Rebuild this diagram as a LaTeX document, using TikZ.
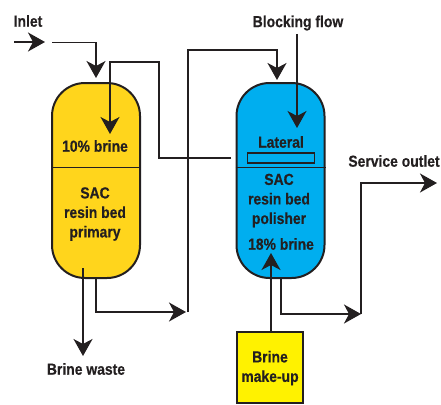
\documentclass[tikz,border=0pt]{standalone}
\usepackage{fontspec}
\setmainfont{Liberation Sans}[FakeStretch=0.87, BoldFeatures={FakeBold=0.4}]
\usepackage{tikz}
\usetikzlibrary{arrows.meta}
\usepackage{xcolor}
\definecolor{inkline}{HTML}{231F20}
\definecolor{bedyellow}{HTML}{FFD51C}
\definecolor{bedblue}{HTML}{00AEEF}
\definecolor{boxyellow}{HTML}{FFF200}

\tikzset{
    vessel/.style={draw=inkline, line width=2pt, rounded corners=33pt, minimum width=88pt, minimum height=195pt, inner sep=0pt},
    pipe/.style={draw=inkline, line width=1.5pt},
    flow/.style={pipe, -{Stealth[length=17pt, width=19pt, inset=5pt]}},
    tag/.style={font=\bfseries\fontsize{16}{19.5}\selectfont, text=inkline, align=center, inner sep=0pt},
}

\begin{document}
\begin{tikzpicture}[x=1pt, y=-1pt]
    \useasboundingbox (0,0) rectangle (441,404);

    % Vessels
    \node[vessel, fill=bedyellow] (primary) at (96,180.5) {};
    \node[vessel, fill=bedblue] (polisher) at (280.5,180.5) {};
    \draw[inkline, line width=1pt] (primary.west |- 0,167) -- (primary.east |- 0,167);
    \draw[inkline, line width=1pt] (polisher.west |- 0,167) -- (polisher.east |- 0,167);

    % Lateral and make-up tank
    \node[draw=inkline, line width=1.6pt, minimum width=67pt, minimum height=10pt, inner sep=0pt] (lateral) at (281,158) {};
    \node[draw=inkline, line width=1.4pt, fill=boxyellow, minimum width=66pt, minimum height=71pt, inner sep=0pt] (makeup) at (270,367.5) {};

    % Coordinates for the pipe ends
    \coordinate (InA) at (14,42);
    \coordinate (InB) at (45,42);
    \coordinate (FeedA) at (52,42.5);
    \coordinate (FeedB) at (96,78);
    \coordinate (RecircA) at (231,158);
    \coordinate (RecircB) at (110,134);
    \coordinate (CrossA) at (188,312);
    \coordinate (CrossB) at (277,80);
    \coordinate (BlockA) at (297,34);
    \coordinate (BlockB) at (297,128);
    \coordinate (WasteA) at (83,268);
    \coordinate (WasteB) at (83,356);
    \coordinate (PrimOutA) at (96,278);
    \coordinate (PrimOutB) at (186,312);
    \coordinate (MakeTip) at (271,253);
    \coordinate (MakeEnd) at (271,332);
    \coordinate (PolOutA) at (281,278);
    \coordinate (PolOutB) at (361,314);
    \coordinate (ServA) at (361,314);
    \coordinate (ServB) at (437,183);

    % Draw the pipes
    \draw[flow] (InA) -- (InB);
    \draw[flow] (FeedA) -| (FeedB);
    \draw[flow] (RecircA) -- (159,158) -- (159,62) -- (110,62) -- (RecircB);
    \draw[flow] (CrossA) -- (188,50) -- (277,50) -- (CrossB);
    \draw[flow, line width=1.2pt] (BlockA) -- (BlockB);
    \draw[flow] (WasteA) -- (WasteB);
    \draw[flow] (PrimOutA) |- (PrimOutB);
    \draw[flow] (MakeEnd) -- (MakeTip);
    \draw[flow] (PolOutA) |- (PolOutB);
    \draw[flow] (ServA) |- (ServB);

    % Labels
    \node[tag] (inlet) at (28,21) {Inlet};
    \node[tag] (blocking) at (298,23) {Blocking flow};
    \node[tag] (service) at (394,161) {Service outlet};
    \node[tag] (waste) at (86,369) {Brine waste};
    \node[tag] (tenpct) at (95,146) {10\% brine};
    \node[tag] (primtext) at (95,214) {SAC\\resin bed\\primary};
    \node[tag] (lattext) at (281,142) {Lateral};
    \node[tag] (poltext) at (279,200.5) {SAC\\resin bed\\polisher};
    \node[tag] (eighteen) at (281,244) {18\% brine};
    \node[tag] (maketext) at (270,368) {Brine\\make-up};

\end{tikzpicture}
\end{document}
